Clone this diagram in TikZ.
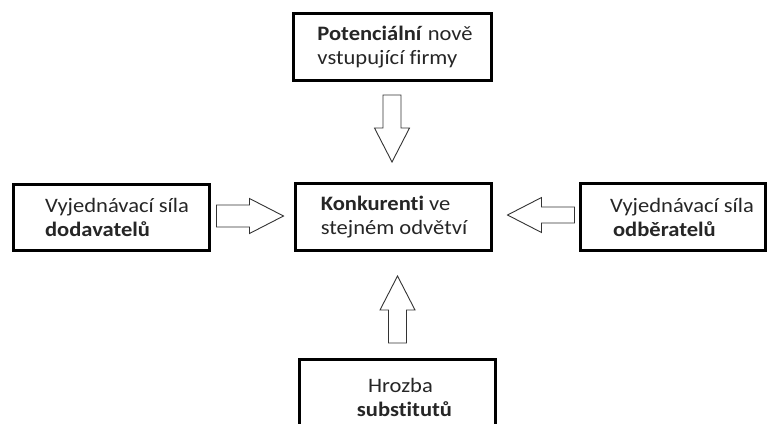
\documentclass[tikz,border=0pt]{standalone}
\usepackage{fontspec}
\setmainfont{Carlito}[FakeStretch=1.1, Ligatures={NoCommon}]
\usetikzlibrary{calc}
\newcommand{\bArrow}[3]{% #1 tail point, #2 rotation, #3 half shaft width
  \draw[arrowline, shift={#1}, rotate=#2]
    (0,-#3) -- (33,-#3) -- (33,-17.5) -- (67,0) -- (33,17.5) -- (33,#3) -- (0,#3) -- cycle;}
\begin{document}
\begin{tikzpicture}[x=1pt,y=-1pt,
  box/.style={draw=black, line width=3pt, fill=white, inner sep=0pt, outer sep=0pt},
  lbl/.style={font=\fontsize{20.5}{24}\selectfont, align=left, inner sep=0pt, text=black!85},
  arrowline/.style={draw=black!80, line width=0.9pt, fill=white, line join=miter}]
  \fill[white] (0,0) rectangle (768,423);
  \useasboundingbox (0,0) rectangle (768,423);
  \clip (0,0) rectangle (768,423);

  % boxes
  \node[box, minimum width=198pt, minimum height=67pt] (top) at (392.5,47) {};
  \node[box, minimum width=196pt, minimum height=67pt] (mid) at (393.5,217) {};
  \node[box, minimum width=196pt, minimum height=66pt] (left) at (111.5,217.5) {};
  \node[box, minimum width=185pt, minimum height=67pt] (right) at (673,217) {};
  \node[box, minimum width=196pt, minimum height=81pt] (bottom) at (397.5,400) {};

  % labels
  \node[lbl] (toptext) at ($(top.center)+(2.5,0)$) {\textbf{Potenciální} nově\\vstupující firmy};
  \node[lbl] (midtext) at ($(mid.center)+(0.5,0)$) {\textbf{Konkurenti} ve\\stejném odvětví};
  \node[lbl] (lefttext) at ($(left.center)+(5.5,0)$) {Vyjednávací síla\\\textbf{dodavatelů}};
  \node[lbl] (righttext) at ($(right.center)+(9,0)$) {Vyjednávací síla\\\hspace{3pt}\textbf{odběratelů}};
  \node[lbl, align=center] (bottomtext) at ($(bottom.center)+(3,-3)$) {Hrozba\\\hspace{8pt}\textbf{substitutů}};

  % block arrows
  \coordinate (ta) at ($(top.south)+(-0.5,14.5)$);
  \coordinate (la) at ($(left.east)+(7,-1.5)$);
  \coordinate (ra) at ($(right.west)+(-6,-2)$);
  \coordinate (ba) at ($(bottom.north)+(0,-16.5)$);
  \bArrow{(ta)}{-90}{9}
  \bArrow{(la)}{0}{11}
  \bArrow{(ra)}{180}{8}
  \bArrow{(ba)}{90}{9}
\end{tikzpicture}
\end{document}
